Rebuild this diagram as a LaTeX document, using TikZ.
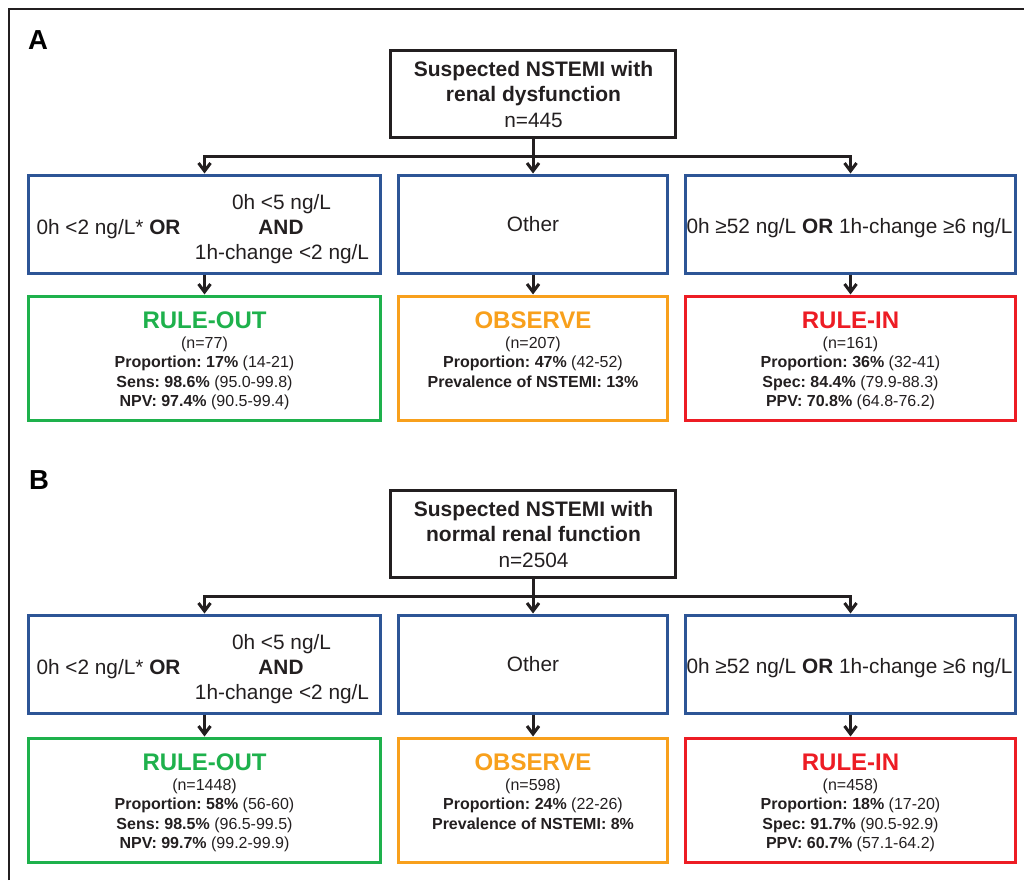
\documentclass[tikz,border=0pt]{standalone}
\usepackage{fontspec}
\setmainfont{Liberation Sans}
\usetikzlibrary{arrows.meta}
\definecolor{ink}{HTML}{231F20}
\definecolor{bluebd}{HTML}{2D5596}
\definecolor{greenbd}{HTML}{1EB14C}
\definecolor{orangebd}{HTML}{F8A01C}
\definecolor{redbd}{HTML}{ED1C24}
\frenchspacing
\begin{document}
\begin{tikzpicture}[x=1pt,y=-1pt,
  frame/.style={draw=ink, line width=2pt},
  boxbase/.style={rectangle, line width=3pt, inner sep=0pt},
  titlebox/.style={boxbase, draw=ink, minimum width=285pt, minimum height=87pt},
  critbox/.style={boxbase, draw=bluebd, minimum height=98pt},
  outbox/.style={boxbase, draw=greenbd, minimum height=124pt},
  obsbox/.style={boxbase, draw=orangebd, minimum height=124pt},
  inbox/.style={boxbase, draw=redbd, minimum height=124pt},
  lbl/.style={anchor=base, inner sep=0pt, outer sep=0pt, text=ink},
  ttl/.style={lbl, font=\fontsize{21}{25}\selectfont\bfseries},
  crit/.style={lbl, font=\fontsize{20.8}{25}\selectfont},
  head/.style={lbl, font=\fontsize{24}{28}\selectfont\bfseries},
  small/.style={lbl, font=\fontsize{16}{20}\selectfont},
  panel/.style={lbl, anchor=base west, font=\fontsize{27.5}{30}\selectfont\bfseries, text=black},
  conn/.style={draw=ink, line width=3pt},
  arr/.style={conn, -{Straight Barb[length=8pt,width=12pt]}}
]
\useasboundingbox (0,0) rectangle (1024,880);
\coordinate (fb) at (9,880);
\coordinate (ftl) at (9,9);
\coordinate (fr) at (1024,9);
\draw[frame] (fb) -- (ftl) -- (fr);

% ================= Panel A =================
\node[panel] (labA) at (28,49.3) {A};
\node[titlebox] (topA) at (533,94) {};
\node[ttl] (topA1) at (533.5,76.7) {Suspected NSTEMI with};
\node[ttl] (topA2) at (533.5,101.7) {renal dysfunction};
\node[crit] (topA3) at (533.5,127) {n=445};

\node[critbox, minimum width=352pt] (cA1) at (204.5,224) {};
\node[critbox, minimum width=269pt] (cA2) at (533,224) {};
\node[critbox, minimum width=330pt] (cA3) at (850.5,224) {};

\node[crit, anchor=base west] (cA1a) at (36.5,234) {0h <2 ng/L* \textbf{OR}};
\node[crit] (cA1b) at (281.5,209) {0h <5 ng/L};
\node[crit] (cA1c) at (281,234) {\textbf{AND}};
\node[crit] (cA1d) at (282,259) {1h-change <2 ng/L};
\node[crit] (cA2a) at (533,231.5) {Other};
\node[crit] (cA3a) at (849.5,233) {0h ≥52 ng/L \textbf{OR} 1h-change ≥6 ng/L};

\node[outbox, minimum width=352pt] (rA1) at (204.5,358) {};
\node[obsbox, minimum width=269pt] (rA2) at (533,358) {};
\node[inbox, minimum width=330pt] (rA3) at (850.5,358) {};

\node[head, text=greenbd] (rA1h) at (204.5,328) {RULE-OUT};
\node[small] (rA1n) at (204.5,348) {(n=77)};
\node[small] (rA1p) at (204.5,367.5) {\textbf{Proportion: 17\%} (14-21)};
\node[small] (rA1s) at (204.5,387) {\textbf{Sens: 98.6\%} (95.0-99.8)};
\node[small] (rA1v) at (204.5,406.5) {\textbf{NPV: 97.4\%} (90.5-99.4)};

\node[head, text=orangebd] (rA2h) at (533,328) {OBSERVE};
\node[small] (rA2n) at (533,348) {(n=207)};
\node[small] (rA2p) at (533,367.5) {\textbf{Proportion: 47\%} (42-52)};
\node[small] (rA2v) at (533,387) {\textbf{Prevalence of NSTEMI: 13\%}};

\node[head, text=redbd] (rA3h) at (850.5,328) {RULE-IN};
\node[small] (rA3n) at (850.5,348) {(n=161)};
\node[small] (rA3p) at (850.5,367.5) {\textbf{Proportion: 36\%} (32-41)};
\node[small] (rA3s) at (850.5,387) {\textbf{Spec: 84.4\%} (79.9-88.3)};
\node[small] (rA3v) at (850.5,406.5) {\textbf{PPV: 70.8\%} (64.8-76.2)};

\coordinate (jA) at (533,156);
\draw[conn] (topA.south) -- (jA);
\draw[arr] (jA) -| (cA1.north);
\draw[arr] (jA) -- (cA2.north);
\draw[arr] (jA) -| (cA3.north);
\draw[arr] (cA1.south) -- (rA1.north);
\draw[arr] (cA2.south) -- (rA2.north);
\draw[arr] (cA3.south) -- (rA3.north);

% ================= Panel B =================
\begin{scope}[yshift=-440pt]
\node[panel] (labB) at (29,49.3) {B};
\node[titlebox] (topB) at (533,94) {};
\node[ttl] (topB1) at (533.5,76.7) {Suspected NSTEMI with};
\node[ttl] (topB2) at (533.5,101.7) {normal renal function};
\node[crit] (topB3) at (533.5,127) {n=2504};

\node[critbox, minimum width=352pt] (cB1) at (204.5,224) {};
\node[critbox, minimum width=269pt] (cB2) at (533,224) {};
\node[critbox, minimum width=330pt] (cB3) at (850.5,224) {};

\node[crit, anchor=base west] (cB1a) at (36.5,234) {0h <2 ng/L* \textbf{OR}};
\node[crit] (cB1b) at (281.5,209) {0h <5 ng/L};
\node[crit] (cB1c) at (281,234) {\textbf{AND}};
\node[crit] (cB1d) at (282,259) {1h-change <2 ng/L};
\node[crit] (cB2a) at (533,231.5) {Other};
\node[crit] (cB3a) at (849.5,233) {0h ≥52 ng/L \textbf{OR} 1h-change ≥6 ng/L};

\node[outbox, minimum width=352pt] (rB1) at (204.5,360) {};
\node[obsbox, minimum width=269pt] (rB2) at (533,360) {};
\node[inbox, minimum width=330pt] (rB3) at (850.5,360) {};

\node[head, text=greenbd] (rB1h) at (204.5,330) {RULE-OUT};
\node[small] (rB1n) at (204.5,350) {(n=1448)};
\node[small] (rB1p) at (204.5,369.5) {\textbf{Proportion: 58\%} (56-60)};
\node[small] (rB1s) at (204.5,389) {\textbf{Sens: 98.5\%} (96.5-99.5)};
\node[small] (rB1v) at (204.5,408.5) {\textbf{NPV: 99.7\%} (99.2-99.9)};

\node[head, text=orangebd] (rB2h) at (533,330) {OBSERVE};
\node[small] (rB2n) at (533,350) {(n=598)};
\node[small] (rB2p) at (533,369.5) {\textbf{Proportion: 24\%} (22-26)};
\node[small] (rB2v) at (533,389) {\textbf{Prevalence of NSTEMI: 8\%}};

\node[head, text=redbd] (rB3h) at (850.5,330) {RULE-IN};
\node[small] (rB3n) at (850.5,350) {(n=458)};
\node[small] (rB3p) at (850.5,369.5) {\textbf{Proportion: 18\%} (17-20)};
\node[small] (rB3s) at (850.5,389) {\textbf{Spec: 91.7\%} (90.5-92.9)};
\node[small] (rB3v) at (850.5,408.5) {\textbf{PPV: 60.7\%} (57.1-64.2)};

\coordinate (jB) at (533,156);
\draw[conn] (topB.south) -- (jB);
\draw[arr] (jB) -| (cB1.north);
\draw[arr] (jB) -- (cB2.north);
\draw[arr] (jB) -| (cB3.north);
\draw[arr] (cB1.south) -- (rB1.north);
\draw[arr] (cB2.south) -- (rB2.north);
\draw[arr] (cB3.south) -- (rB3.north);
\end{scope}
\end{tikzpicture}
\end{document}
